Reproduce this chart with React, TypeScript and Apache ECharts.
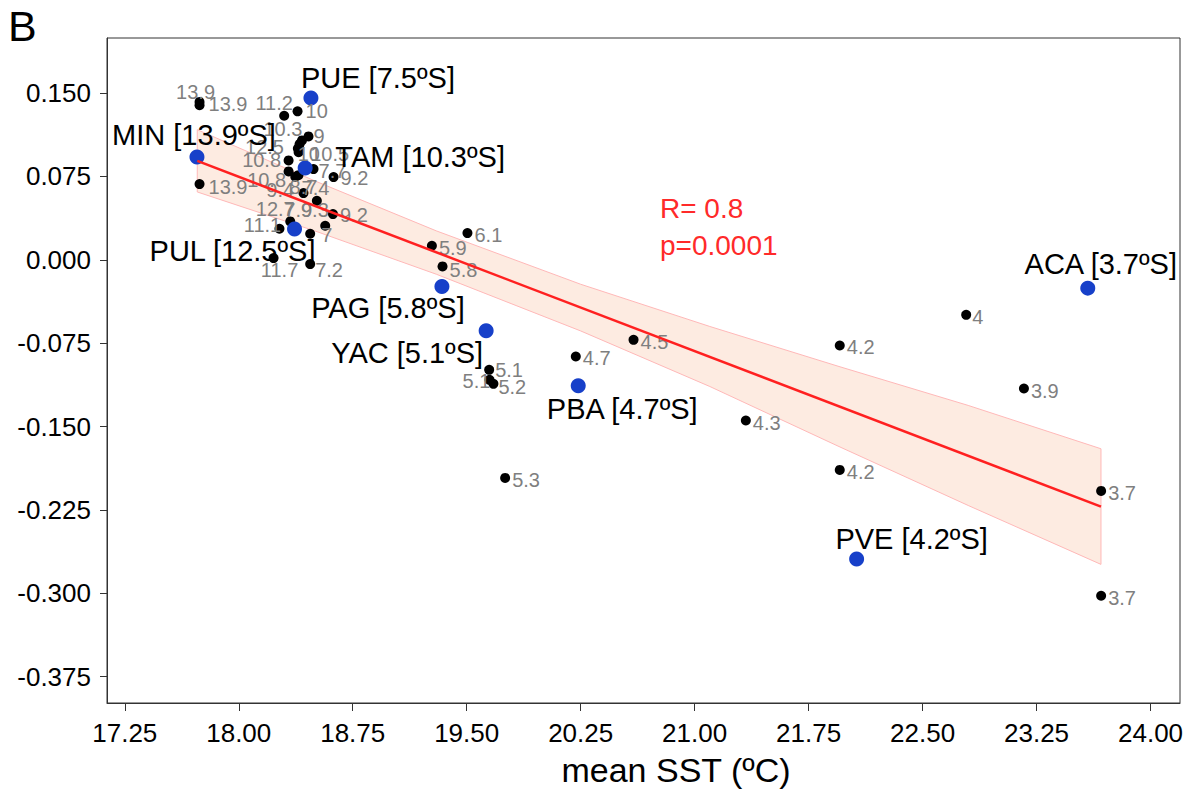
import React, { useEffect, useRef } from "react";
import * as echarts from "echarts";

// ---- data ----
const xTicks = [17.25, 18.0, 18.75, 19.5, 20.25, 21.0, 21.75, 22.5, 23.25, 24.0];
const yTicks = [-0.375, -0.3, -0.225, -0.15, -0.075, 0, 0.075, 0.15];

// black points (samples) with latitude labels
const blackX = [17.742, 17.742, 18.299, 18.387, 18.459, 18.416, 18.4, 18.389, 18.394, 18.328, 18.492, 18.328, 18.393, 18.372, 18.624, 18.426, 18.514, 18.62, 18.339, 18.268, 18.569, 18.47, 18.229, 18.47, 17.742, 19.271, 19.505, 19.341, 19.648, 19.65, 19.676, 20.218, 20.598, 19.753, 21.337, 21.955, 21.955, 22.787, 23.167, 23.675, 23.675];
const blackY = [0.142, 0.139, 0.1296, 0.1335, 0.111, 0.1074, 0.104, 0.1001, 0.0968, 0.0894, 0.0816, 0.0795, 0.0761, 0.0747, 0.0744, 0.06, 0.0531, 0.0411, 0.0345, 0.0279, 0.0306, 0.0234, 0.0015, -0.0039, 0.0681, 0.0126, 0.024, -0.006, -0.099, -0.108, -0.1116, -0.087, -0.072, -0.1962, -0.1446, -0.0771, -0.189, -0.0495, -0.1158, -0.2079, -0.3022];
const blackLabels = ["13.9", "13.9", "11.2", "10", "9", "10.3", "12.5", "10", "10.5", "10.8", "7.7", "10.8", "8.7", "9.4", "9.2", "7.4", "9.3", "9.2", "12.7", "11.1", "7.9", "7", "11.7", "7.2", "13.9", "5.9", "6.1", "5.8", "5.1", "5.1", "5.2", "4.7", "4.5", "5.3", "4.3", "4.2", "4.2", "4", "3.9", "3.7", "3.7"];

// sites (blue points)
const siteNames = ["PUE [7.5ºS]", "MIN [13.9ºS]", "TAM [10.3ºS]", "PUL [12.5ºS]", "PAG [5.8ºS]", "YAC [5.1ºS]", "PBA [4.7ºS]", "ACA [3.7ºS]", "PVE [4.2ºS]"];
const siteX = [18.475, 17.725, 18.437, 18.367, 19.337, 19.628, 20.234, 23.587, 22.066];
const siteY = [0.1455, 0.0924, 0.0825, 0.0276, -0.024, -0.0639, -0.1134, -0.0255, -0.2691];

// regression line and confidence band
const lineX = [17.727, 23.674];
const lineY = [0.089, -0.222];
const bandX = [17.727, 18.5, 19.3, 20.25, 21.1, 21.95, 22.8, 23.674];
const bandLower = [0.061, 0.026, -0.013, -0.064, -0.114, -0.168, -0.221, -0.274];
const bandUpper = [0.117, 0.071, 0.026, -0.022, -0.06, -0.096, -0.131, -0.17];

const statText = ["R= 0.8", "p=0.0001"];
const xTitle = "mean SST (ºC)";

// ---- label layout (style) ----
// ['r', distance, dy] = right of point; ['c', dx, dy] = centred with offset
const blackLabelLayout: [string, number, number][] = [
  ["c", -4, -10], ["r", 4, -1], ["c", -10, -13], ["r", 3, 0], ["r", 0, 0],
  ["c", -19, -11], ["c", -35, 3], ["c", 11, 6], ["c", 31, 2], ["c", -27, 0],
  ["r", 0, 2], ["c", -22, 9], ["c", 5, 12], ["c", -15, 13], ["r", 2, 1],
  ["c", 12, -5], ["c", -2, 9], ["r", 2, 1], ["c", -15, -12], ["c", -17, -4],
  ["c", -27, -16], ["r", 6, 1], ["c", 6, 12], ["r", 0, 6], ["r", 4, 3],
  ["r", 2, 2], ["r", 2, 2], ["r", 2, 4], ["r", 1, 0], ["c", -13, 1],
  ["r", 0, 3], ["r", 2, 2], ["r", 2, 2], ["r", 2, 2], ["r", 2, 2],
  ["r", 2, 2], ["r", 2, 2], ["r", 1, 2], ["r", 2, 2], ["r", 2, 2], ["r", 2, 2],
];
const siteLabelOffset: [number, number][] = [
  [67, -20], [-3, -22], [115, -11], [-62, 22], [-54, 22], [-79, 22], [44, 23], [13, -24], [55, -20],
];

const FONT = "'Liberation Sans', Arial, Helvetica, sans-serif";

export default function App() {
  const ref = useRef<HTMLDivElement>(null);
  useEffect(() => {
    if (!ref.current) return;
    const chart = echarts.init(ref.current, null, { renderer: "svg" });

    const blackData = blackX.map((x, i) => {
      const [mode, a, b] = blackLabelLayout[i];
      const label =
        mode === "r"
          ? { position: "right", distance: a, offset: [0, b] }
          : { position: "inside", offset: [a, b] };
      return { value: [x, blackY[i]], name: blackLabels[i], label };
    });
    const siteData = siteX.map((x, i) => ({
      value: [x, siteY[i]],
      name: siteNames[i],
      label: { position: "inside", offset: siteLabelOffset[i] },
    }));

    const option: any = {
      animation: false,
      textStyle: { fontFamily: FONT },
      grid: {
        left: 107,
        right: 12,
        top: 38,
        bottom: 100,
        show: true,
        borderColor: "#333",
        borderWidth: 1,
        backgroundColor: "transparent",
      },
      xAxis: {
        type: "value",
        min: 17.133,
        max: 24.194,
        splitLine: { show: false },
        axisLine: { show: true, onZero: false, lineStyle: { color: "#333", width: 1 } },
        axisTick: { show: true, length: 8, customValues: xTicks, lineStyle: { color: "#333" } },
        axisLabel: {
          customValues: xTicks,
          formatter: (v: number) => v.toFixed(2),
          fontSize: 26,
          color: "#000",
          margin: 17,
          fontFamily: FONT,
        },
      },
      yAxis: {
        type: "value",
        min: -0.3987,
        max: 0.1995,
        splitLine: { show: false },
        axisLine: { show: true, onZero: false, lineStyle: { color: "#333", width: 1 } },
        axisTick: { show: true, length: 7, customValues: yTicks, lineStyle: { color: "#333" } },
        axisLabel: {
          customValues: yTicks,
          formatter: (v: number) => v.toFixed(3),
          fontSize: 26,
          color: "#000",
          margin: 16,
          fontFamily: FONT,
        },
      },
      graphic: [
        { type: "text", left: 8, top: 4, style: { text: "B", fontSize: 43, fill: "#000", fontFamily: FONT } },
        { type: "text", left: 660, top: 194, style: { text: statText[0], fontSize: 28, fill: "#FF2A2A", fontFamily: FONT } },
        { type: "text", left: 660, top: 231, style: { text: statText[1], fontSize: 28, fill: "#FF2A2A", fontFamily: FONT } },
        {
          type: "text",
          x: 676,
          y: 770,
          style: { text: xTitle, fontSize: 34, fill: "#000", fontFamily: FONT, align: "center", verticalAlign: "middle" },
        },
      ],
      series: [
        {
          type: "custom",
          silent: true,
          clip: true,
          data: [[bandX[0], bandLower[0]]],
          renderItem: (params: any, api: any) => {
            const pts: number[][] = [];
            for (let i = 0; i < bandX.length; i++) pts.push(api.coord([bandX[i], bandUpper[i]]));
            for (let i = bandX.length - 1; i >= 0; i--) pts.push(api.coord([bandX[i], bandLower[i]]));
            return {
              type: "polygon",
              shape: { points: pts },
              style: { fill: "#FDEBE1", stroke: "#FFB8B8", lineWidth: 1 },
            };
          },
        },
        {
          type: "line",
          silent: true,
          showSymbol: false,
          symbol: "none",
          data: lineX.map((x, i) => [x, lineY[i]]),
          lineStyle: { color: "#FF2020", width: 2.5 },
        },
        {
          type: "scatter",
          silent: true,
          symbol: "circle",
          symbolSize: 10,
          itemStyle: { color: "#000", opacity: 1 },
          label: {
            show: true,
            formatter: (p: any) => p.name,
            fontSize: 20,
            color: "#7F7F7F",
            textBorderWidth: 0,
            fontFamily: FONT,
          },
          data: blackData,
        },
        {
          type: "scatter",
          silent: true,
          symbol: "circle",
          symbolSize: 15,
          itemStyle: { color: "#1740C9", opacity: 1 },
          label: {
            show: true,
            formatter: (p: any) => p.name,
            fontSize: 29,
            color: "#000",
            textBorderWidth: 0,
            fontFamily: FONT,
          },
          data: siteData,
        },
      ],
    };
    chart.setOption(option);
    return () => chart.dispose();
  }, []);
  return (
    <div
      ref={ref}
      style={{ position: "absolute", left: 0, top: 0, width: 1192, height: 803, background: "#fff" }}
    />
  );
}
